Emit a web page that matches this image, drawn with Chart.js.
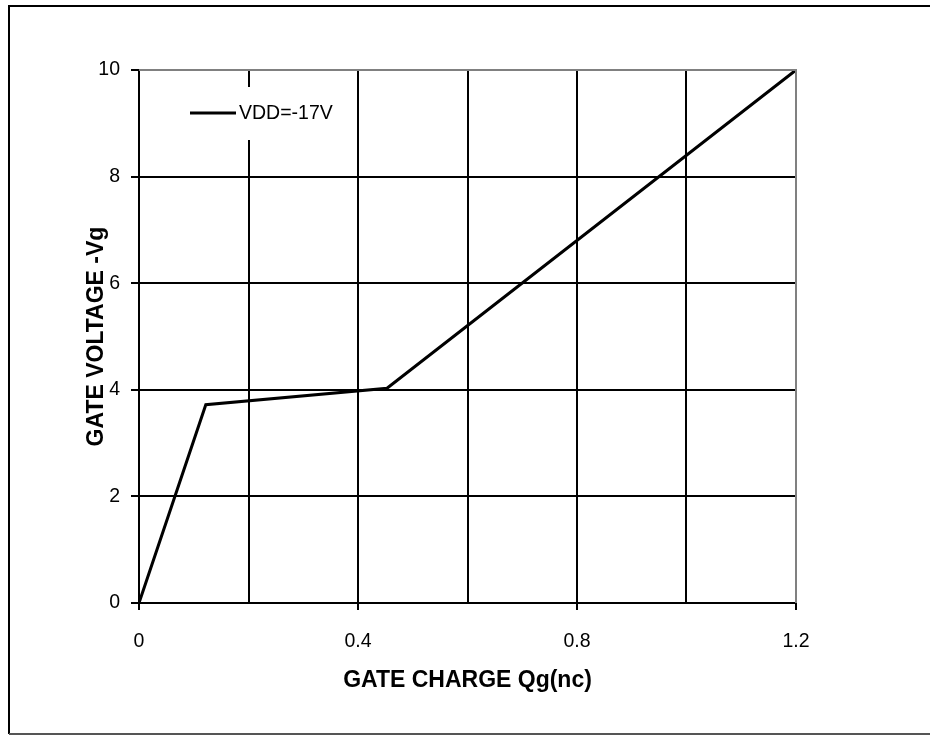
<!DOCTYPE html>
<html><head><meta charset="utf-8">
<script src="https://cdn.jsdelivr.net/npm/chart.js@4.4.1/dist/chart.umd.min.js"></script>
<style>html,body{margin:0;padding:0;background:#fff}#wrap{width:930px;height:739px}</style>
</head><body><div id="wrap"><canvas id="c" width="930" height="739"></canvas></div>
<script>
const seriesLabel = 'VDD=-17V';
const gateCharge = [0, 0.122, 0.453, 1.2];
const gateVoltage = [0, 3.72, 4.03, 10];
const xTitle = 'GATE CHARGE Qg(nc)';
const yTitle = 'GATE VOLTAGE -Vg';

const FONT = "'Liberation Sans', Arial, sans-serif";

const framePlugin = {
  id: 'frame',
  beforeDraw(chart) {
    const ctx = chart.ctx;
    ctx.save();
    ctx.fillStyle = '#fff';
    ctx.fillRect(0, 0, chart.width, chart.height);
    ctx.lineWidth = 2;
    ctx.strokeStyle = '#000';
    ctx.beginPath();
    ctx.moveTo(9, 734); ctx.lineTo(9, 6); ctx.lineTo(930, 6);
    ctx.stroke();
    ctx.strokeStyle = '#555';
    ctx.beginPath();
    ctx.moveTo(9, 734); ctx.lineTo(930, 734);
    ctx.stroke();
    ctx.restore();
  },
  afterDraw(chart) {
    const ctx = chart.ctx;
    const a = chart.chartArea;
    ctx.save();
    ctx.strokeStyle = '#808080';
    ctx.lineWidth = 2;
    ctx.beginPath();
    ctx.moveTo(a.left, a.top); ctx.lineTo(a.right, a.top); ctx.lineTo(a.right, a.bottom);
    ctx.stroke();
    const ds = chart.data.datasets[0];
    ctx.fillStyle = '#fff';
    ctx.fillRect(a.left + 44, a.top + 17, 160, 53);
    ctx.strokeStyle = ds.borderColor;
    ctx.lineWidth = 3;
    ctx.beginPath();
    ctx.moveTo(a.left + 51, a.top + 43); ctx.lineTo(a.left + 97, a.top + 43);
    ctx.stroke();
    ctx.fillStyle = '#000';
    ctx.font = '19.5px ' + FONT;
    ctx.textBaseline = 'middle';
    ctx.textAlign = 'left';
    ctx.fillText(ds.label, a.left + 100, a.top + 44);
    ctx.restore();
  }
};

new Chart(document.getElementById('c'), {
  type: 'scatter',
  data: {
    datasets: [{
      label: seriesLabel,
      data: gateCharge.map((x, i) => ({x: x, y: gateVoltage[i]})),
      showLine: true,
      borderColor: '#000',
      borderWidth: 3,
      pointRadius: 0,
      fill: false,
      tension: 0
    }]
  },
  options: {
    responsive: false,
    animation: false,
    layout: {padding: {left: 79, right: 134, top: 70, bottom: 41}},
    plugins: {legend: {display: false}, tooltip: {enabled: false}},
    scales: {
      x: {
        type: 'linear', min: 0, max: 1.2,
        afterFit(s) { s.height = 95; },
        ticks: {
          stepSize: 0.2, color: '#000', font: {family: FONT, size: 19.5}, padding: 20,
          maxRotation: 0, autoSkip: false,
          callback(v) { const k = Math.round(v * 10); return k % 4 === 0 ? String(Math.round(v * 10) / 10) : ''; }
        },
        grid: {
          color: '#000', lineWidth: 2, tickLength: 7,
          tickColor(c) { const k = Math.round(c.tick.value * 10); return k % 4 === 0 ? '#000' : 'rgba(0,0,0,0)'; }
        },
        border: {color: '#000', width: 2},
        title: {display: true, text: xTitle, color: '#000', font: {family: FONT, size: 23, weight: 'bold'}, padding: {top: 4, bottom: 4}}
      },
      y: {
        type: 'linear', min: 0, max: 10,
        afterFit(s) { s.width = 60; },
        ticks: {stepSize: 2, color: '#000', font: {family: FONT, size: 19.5}, padding: 11},
        grid: {color: '#000', lineWidth: 2, tickLength: 8, tickColor: '#000'},
        border: {color: '#000', width: 2},
        title: {display: true, text: yTitle, color: '#000', font: {family: FONT, size: 23, weight: 'bold'}, padding: {top: 4, bottom: 4}}
      }
    }
  },
  plugins: [framePlugin]
});
</script></body></html>
